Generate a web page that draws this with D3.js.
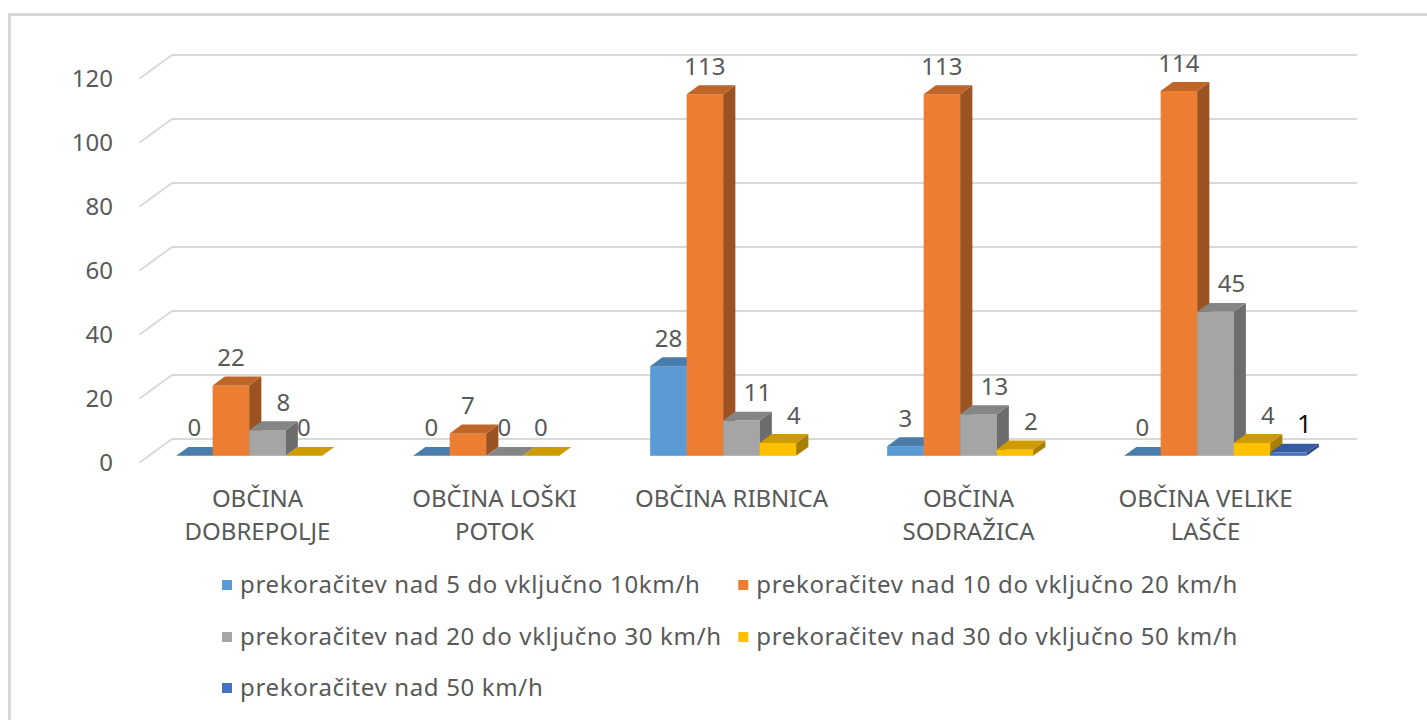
<!DOCTYPE html>
<html lang="sl">
<head>
    <meta charset="UTF-8">
    <title>Prekoračitve hitrosti po občinah</title>
    <script src="https://d3js.org/d3.v7.min.js"></script>
    <style>
        body { margin: 0; background: #fff; }
        svg text { font-family: "Segoe UI", "Noto Sans", sans-serif; fill: #595959; }
        .legend text { letter-spacing: 0.65px; }
    </style>
</head>
<body>
    <svg id="chart" width="1427" height="720"></svg>

    <script>
        // Data
        const categories = ["OBČINA DOBREPOLJE", "OBČINA LOŠKI POTOK", "OBČINA RIBNICA", "OBČINA SODRAŽICA", "OBČINA VELIKE LAŠČE"];
        const seriesNames = [
            "prekoračitev nad 5 do vključno 10km/h",
            "prekoračitev nad 10 do vključno 20 km/h",
            "prekoračitev nad 20 do vključno 30 km/h",
            "prekoračitev nad 30 do vključno 50 km/h",
            "prekoračitev nad 50 km/h"
        ];
        const over5 = [0, 0, 28, 3, 0];
        const over10 = [22, 7, 113, 113, 114];
        const over20 = [8, 0, 11, 13, 45];
        const over30 = [0, 0, 4, 2, 4];
        const over50 = [null, null, null, null, 1];
        const yTicks = [0, 20, 40, 60, 80, 100, 120];

        const series = [over5, over10, over20, over30, over50];
        const colors = ["#5B9BD5", "#ED7D31", "#A5A5A5", "#FFC000", "#4472C4"];

        const svg = d3.select("#chart");

        // chart frame
        svg.append("rect")
            .attr("x", 9.5).attr("y", 14.5)
            .attr("width", 1440).attr("height", 720)
            .attr("fill", "none")
            .attr("stroke", "#D9D9D9")
            .attr("stroke-width", 3);

        // 3D projection: front plane + depth vector
        const DX = 33, DY = -24;
        const d0 = 0.3, d1 = 0.67;

        const x = d3.scaleBand()
            .domain(categories)
            .range([139, 1324])
            .paddingInner(0.23)
            .paddingOuter(0.115);

        const xs = d3.scaleBand()
            .domain(d3.range(series.length))
            .range([0, x.bandwidth()]);

        const y = d3.scaleLinear().domain([0, 120]).range([463, 79]);

        // gridlines on back wall + side wall
        const grid = svg.append("g")
            .attr("stroke", "#D9D9D9")
            .attr("stroke-width", 2)
            .attr("fill", "none");

        yTicks.forEach(t => {
            grid.append("path")
                .attr("d", `M${139},${y(t)}L${139 + DX},${y(t) + DY}L${1324 + DX},${y(t) + DY}`);
        });

        // y axis labels
        svg.append("g").selectAll("text")
            .data(yTicks)
            .join("text")
            .attr("x", 113)
            .attr("y", d => y(d))
            .attr("dy", "0.35em")
            .attr("text-anchor", "end")
            .style("font-size", "24px")
            .text(d => d);

        // bars
        const bars = svg.append("g");
        const labels = svg.append("g");
        const bdx = (d1 - d0) * DX, bdy = (d1 - d0) * DY;
        const w = xs.bandwidth();

        categories.forEach((c, ci) => {
            series.forEach((vals, si) => {
                const v = vals[ci];
                if (v === null) return;
                const xl = x(c) + xs(si) + d0 * DX;
                const xr = xl + w;
                const yb = y(0) + d0 * DY;
                const yt = y(v) + d0 * DY;
                const col = d3.color(colors[si]);

                bars.append("rect")
                    .attr("x", xl).attr("y", yt)
                    .attr("width", w).attr("height", yb - yt)
                    .attr("fill", col.formatHex());

                bars.append("path")
                    .attr("d", `M${xr},${yt}L${xr + bdx},${yt + bdy}L${xr + bdx},${yb + bdy}L${xr},${yb}Z`)
                    .attr("fill", col.darker(1.15).formatHex());

                bars.append("path")
                    .attr("d", `M${xl},${yt}L${xr},${yt}L${xr + bdx},${yt + bdy}L${xl + bdx},${yt + bdy}Z`)
                    .attr("fill", col.darker(0.6).formatHex());

                // labels next to small bars are pushed right a bit
                const nudge = (si >= 2 && v > 0) ? 16 : 0;
                labels.append("text")
                    .attr("x", xl + w / 2 + nudge)
                    .attr("y", yt + bdy - 10.5)
                    .attr("text-anchor", "middle")
                    .style("font-size", si === 4 ? "26px" : "24px")
                    .style("fill", si === 4 ? "#111" : null)
                    .text(v);
            });
        });

        // category labels with wrapping
        const catG = svg.append("g");
        categories.forEach(c => {
            const cx = x(c) + x.bandwidth() / 2;
            const t = catG.append("text")
                .attr("x", cx)
                .attr("y", 507)
                .attr("text-anchor", "middle")
                .style("font-size", "24px");
            const words = c.split(" ");
            let line = [];
            let ts = t.append("tspan").attr("x", cx);
            words.forEach(word => {
                line.push(word);
                ts.text(line.join(" "));
                if (ts.node().getComputedTextLength() > 205 && line.length > 1) {
                    line.pop();
                    ts.text(line.join(" "));
                    line = [word];
                    ts = t.append("tspan")
                        .attr("x", cx)
                        .attr("dy", 33)
                        .text(word);
                }
            });
        });

        // legend
        const legendRows = [[0, 1], [2, 3], [4]];
        const legL = 222, legR = 1238;
        const rowY = [585, 637, 688];
        const legend = svg.append("g").attr("class", "legend");

        legendRows.forEach((row, ri) => {
            row.forEach((si, k) => {
                const g = legend.append("g");
                g.append("rect")
                    .attr("width", 10).attr("height", 10)
                    .attr("y", -5)
                    .attr("fill", colors[si]);
                const txt = g.append("text")
                    .attr("x", 18)
                    .attr("dy", "0.35em")
                    .style("font-size", "24px")
                    .text(seriesNames[si]);
                const wItem = 18 + txt.node().getComputedTextLength();
                const gx = k === 0 ? legL : legR - wItem;
                g.attr("transform", `translate(${gx},${rowY[ri]})`);
            });
        });
    </script>
</body>
</html>
